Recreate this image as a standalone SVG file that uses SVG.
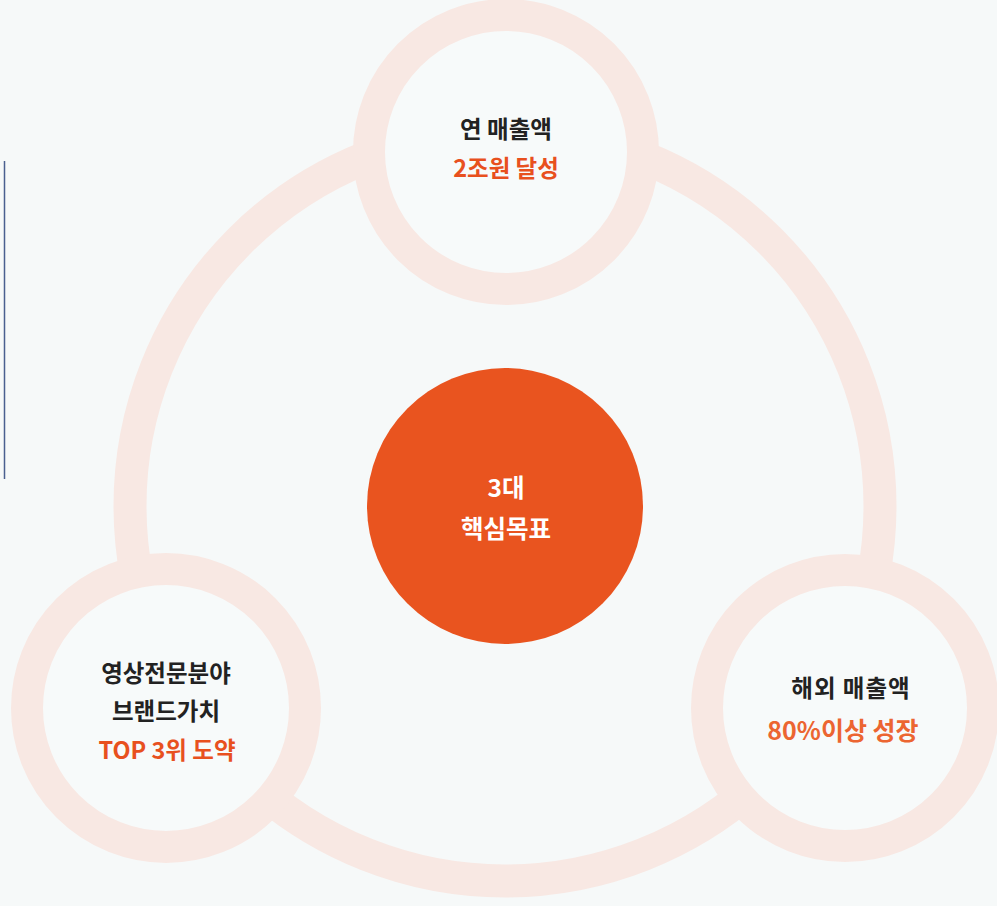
<svg xmlns="http://www.w3.org/2000/svg" width="997" height="906" viewBox="0 0 997 906">
  <style>
    .ring { fill: none; stroke: #f8e8e3; stroke-width: 33; }
    .node { fill: #f7fafa; stroke: #f8e8e3; stroke-width: 32; }
    .t { font-family: "Noto Sans CJK KR", "Noto Sans", sans-serif; font-weight: 700; font-size: 23.5px; text-anchor: middle; }
    .dark { fill: #222222; }
    .accent { fill: #e8501e; }
    .accent2 { fill: #ec6531; font-size: 25px; }
    .white { fill: #ffffff; font-size: 24.5px; }
  </style>
  <rect x="0" y="0" width="997" height="906" fill="#f6f9f9"/>
  <line x1="4.5" y1="161" x2="4.5" y2="479" stroke="#4a6090" stroke-width="1.5"/>
  <g id="connectors">
    <circle class="ring" cx="505" cy="506" r="375"/>
  </g>
  <g id="node-top">
    <circle class="node" cx="506" cy="152" r="137"/>
    <text class="t dark" x="506" y="138">연 매출액</text>
    <text class="t accent" x="506" y="177">2조원 달성</text>
  </g>
  <g id="node-left">
    <circle class="node" cx="166" cy="708" r="139"/>
    <text class="t dark" x="166" y="682">영상전문분야</text>
    <text class="t dark" x="166" y="720">브랜드가치</text>
    <text class="t accent" x="167" y="759">TOP 3위 도약</text>
  </g>
  <g id="node-right">
    <circle class="node" cx="845" cy="708" r="138"/>
    <text class="t dark" x="851" y="697" letter-spacing="1">해외 매출액</text>
    <text class="t accent2" x="843" y="740">80%이상 성장</text>
  </g>
  <g id="node-center">
    <circle cx="505" cy="506" r="138" fill="#e9541f"/>
    <text class="t white" x="506" y="497">3대</text>
    <text class="t white" x="506" y="538">핵심목표</text>
  </g>
</svg>
